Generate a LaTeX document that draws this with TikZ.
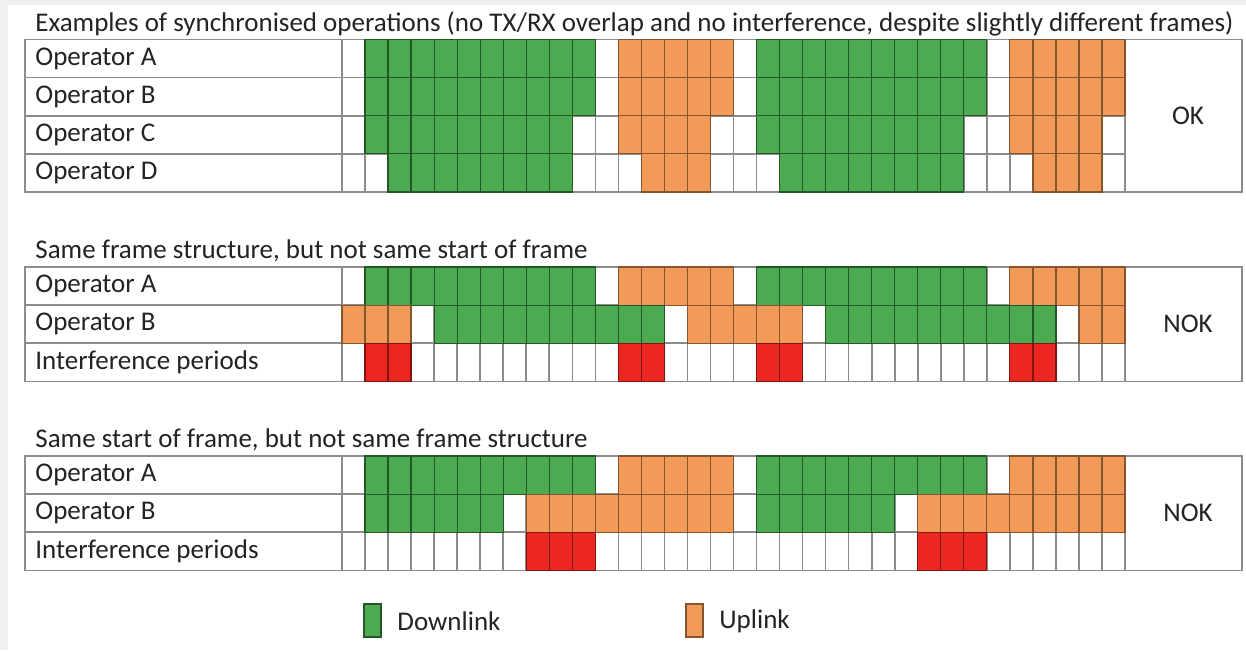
\documentclass[tikz,border=0pt]{standalone}
\usepackage{fontspec}
\setmainfont{Carlito}
\definecolor{dlgreen}{RGB}{76,170,80}
\definecolor{ulorange}{RGB}{242,155,88}
\definecolor{ifred}{RGB}{236,38,32}
\definecolor{gridgray}{RGB}{140,140,140}
\definecolor{txt}{RGB}{35,35,35}
\definecolor{bggray}{RGB}{240,240,240}
\newcommand{\gcell}[3]{\path[#1] ({342+23.03*#2},#3) rectangle ({342+23.03*(#2+1)},{#3+38.1});}
\newcommand{\gridrow}[2]{\foreach \c [count=\i from 0] in #2 {\edef\gopt{cell\c}\expandafter\gcell\expandafter{\gopt}{\i}{#1}}}
\def\pA{W,G,G,G,G,G,G,G,G,G,G,W,O,O,O,O,O,W,G,G,G,G,G,G,G,G,G,G,W,O,O,O,O,O}
\def\pC{W,G,G,G,G,G,G,G,G,G,W,W,O,O,O,O,W,W,G,G,G,G,G,G,G,G,G,W,W,O,O,O,O,W}
\def\pD{W,W,G,G,G,G,G,G,G,G,W,W,W,O,O,O,W,W,W,G,G,G,G,G,G,G,G,W,W,W,O,O,O,W}
\def\pBtwo{O,O,O,W,G,G,G,G,G,G,G,G,G,G,W,O,O,O,O,O,W,G,G,G,G,G,G,G,G,G,G,W,O,O}
\def\pItwo{W,R,R,W,W,W,W,W,W,W,W,W,R,R,W,W,W,W,R,R,W,W,W,W,W,W,W,W,W,R,R,W,W,W}
\def\pBthree{W,G,G,G,G,G,G,W,O,O,O,O,O,O,O,O,O,W,G,G,G,G,G,G,W,O,O,O,O,O,O,O,O,O}
\def\pIthree{W,W,W,W,W,W,W,W,R,R,R,W,W,W,W,W,W,W,W,W,W,W,W,W,W,R,R,R,W,W,W,W,W,W}
\newcommand{\gtable}[2]{%
  \draw[gridline] (25,#1) rectangle (1242,{#1+38.1*#2});
  \draw[gridline] (342,#1) -- (342,{#1+38.1*#2});
  \foreach \k in {1,...,34} {\draw[gridline] ({342+23.03*\k},#1) -- ({342+23.03*\k},{#1+38.1*#2});}
}
\begin{document}
\begin{tikzpicture}[x=0.5pt,y=-0.5pt,
  gridline/.style={draw=gridgray,line width=0.8pt},
  cellW/.style={},
  cellG/.style={fill=dlgreen,draw=dlgreen!50!black,line width=0.6pt},
  cellO/.style={fill=ulorange,draw=ulorange!55!black,line width=0.6pt},
  cellR/.style={fill=ifred,draw=ifred!55!black,line width=0.6pt},
  lbl/.style={anchor=west,inner sep=0pt,text=txt,font=\fontsize{13.5pt}{15pt}\selectfont},
  ttl/.style={anchor=base west,inner sep=0pt,text=txt,font=\fontsize{13.5pt}{15pt}\selectfont},
  verdict/.style={anchor=center,inner sep=0pt,text=txt,font=\fontsize{13.5pt}{15pt}\selectfont}]
\useasboundingbox (0,0) rectangle (1246,650);
\fill[bggray] (0,0) rectangle (1246,650);
\fill[white] (8,5) rectangle (1246,650);
% ---------- section 1
\node[ttl] (t1) at (35,31) {Examples of synchronised operations (no TX/RX overlap and no interference, despite slightly different frames)};
\gtable{39.5}{4}
\foreach \r in {1,2,3} {\draw[gridline] (25,{39.5+38.1*\r}) -- (1125,{39.5+38.1*\r});}
\gridrow{39.5}{\pA}
\gridrow{77.6}{\pA}
\gridrow{115.7}{\pC}
\gridrow{153.8}{\pD}
\node[lbl] (s1a) at (35,58.5) {Operator A};
\node[lbl] (s1b) at (35,96.6) {Operator B};
\node[lbl] (s1c) at (35,134.7) {Operator C};
\node[lbl] (s1d) at (35,172.8) {Operator D};
\node[verdict] (v1) at (1188,115.7) {OK};
% ---------- section 2
\node[ttl] (t2) at (35,258) {Same frame structure, but not same start of frame};
\gtable{267}{3}
\foreach \r in {1,2} {\draw[gridline] (25,{267+38.1*\r}) -- (1125,{267+38.1*\r});}
\gridrow{267}{\pA}
\gridrow{305.1}{\pBtwo}
\gridrow{343.2}{\pItwo}
\node[lbl] (s2a) at (35,286) {Operator A};
\node[lbl] (s2b) at (35,324.1) {Operator B};
\node[lbl] (s2i) at (35,362.2) {Interference periods};
\node[verdict] (v2) at (1188,324.1) {NOK};
% ---------- section 3
\node[ttl] (t3) at (35,447) {Same start of frame, but not same frame structure};
\gtable{456}{3}
\foreach \r in {1,2} {\draw[gridline] (25,{456+38.1*\r}) -- (1125,{456+38.1*\r});}
\gridrow{456}{\pA}
\gridrow{494.1}{\pBthree}
\gridrow{532.2}{\pIthree}
\node[lbl] (s3a) at (35,475) {Operator A};
\node[lbl] (s3b) at (35,513.1) {Operator B};
\node[lbl] (s3i) at (35,551.2) {Interference periods};
\node[verdict] (v3) at (1188,513.1) {NOK};
% ---------- legend
\path[cellG] (364,604) rectangle (381,637);
\node[lbl] (dl) at (397,621) {Downlink};
\path[cellO] (686,604) rectangle (703,637);
\node[lbl] (ul) at (719,621) {Uplink};
\end{tikzpicture}
\end{document}
